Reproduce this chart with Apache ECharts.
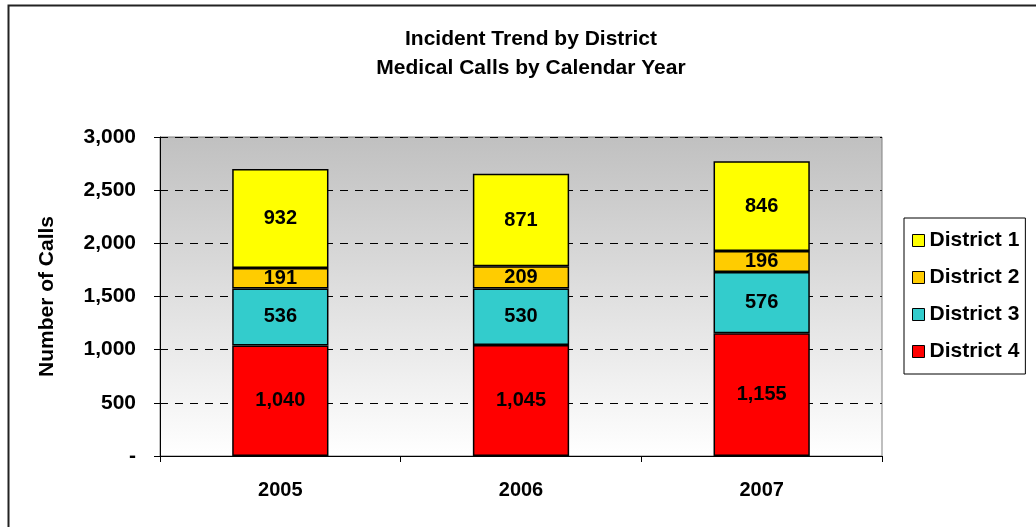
<!DOCTYPE html>
<html>
<head>
<meta charset="utf-8">
<script src="https://cdn.jsdelivr.net/npm/echarts@6/dist/echarts.min.js"></script>
<style>
  html, body { margin: 0; padding: 0; background: #fff; }
  #main { width: 1036px; height: 527px; }
</style>
</head>
<body>
<div id="main"></div>
<script>
  // data
  const years = ['2005', '2006', '2007']
  const district1 = [932, 871, 846]
  const district2 = [191, 209, 196]
  const district3 = [536, 530, 576]
  const district4 = [1040, 1045, 1155]
  const yTicks = [0, 500, 1000, 1500, 2000, 2500, 3000]

  const fontFamily = '"Liberation Sans", Arial, sans-serif'
  const fmt = v => v === 0 ? '-' : v.toLocaleString('en-US')

  const myChart = echarts.init(document.getElementById('main'))

  // one series per district, bottom of the stack first
  function barSeries (name, data, color) {
    return {
      name: name,
      type: 'bar',
      stack: 'calls',
      barWidth: '40%',
      data: data,
      itemStyle: { color: color, borderColor: '#000', borderWidth: 1.5 },
      label: {
        show: true,
        position: 'inside',
        color: '#000',
        fontFamily: fontFamily,
        fontWeight: 'bold',
        fontSize: 20,
        formatter: p => fmt(p.value)
      }
    }
  }

  const option = {
    animation: false,
    backgroundColor: '#fff',
    textStyle: { fontFamily: fontFamily },
    graphic: [{
      type: 'rect',
      shape: { x: 8.5, y: 5.5, width: 1100, height: 600 },
      style: { fill: 'none', stroke: '#222', lineWidth: 2 },
      z: 100
    }],
    title: {
      text: 'Incident Trend by District\nMedical Calls by Calendar Year',
      left: 526,
      textAlign: 'center',
      top: 20,
      textStyle: {
        fontFamily: fontFamily,
        fontWeight: 'bold',
        fontSize: 21,
        lineHeight: 29,
        color: '#000'
      }
    },
    legend: {
      orient: 'vertical',
      left: 904,
      top: 218,
      data: ['District 1', 'District 2', 'District 3', 'District 4'],
      icon: 'rect',
      itemWidth: 12,
      itemHeight: 12,
      itemGap: 16,
      padding: [12, 6, 12, 8],
      borderColor: '#000',
      borderWidth: 1,
      itemStyle: { borderColor: '#000', borderWidth: 1 },
      textStyle: {
        fontFamily: fontFamily,
        fontWeight: 'bold',
        fontSize: 21,
        color: '#000'
      }
    },
    grid: {
      left: 160,
      top: 137,
      right: 154,
      bottom: 71,
      show: true,
      borderColor: '#808080',
      borderWidth: 1,
      backgroundColor: {
        type: 'linear', x: 0, y: 0, x2: 0, y2: 1,
        colorStops: [
          { offset: 0, color: '#c0c0c0' },
          { offset: 1, color: '#ffffff' }
        ]
      }
    },
    xAxis: {
      type: 'category',
      data: years,
      axisLine: { lineStyle: { color: '#000', width: 1 } },
      axisTick: { show: true, length: 6, lineStyle: { color: '#000' } },
      axisLabel: {
        color: '#000',
        fontWeight: 'bold',
        fontSize: 20,
        margin: 24
      }
    },
    yAxis: {
      type: 'value',
      min: yTicks[0],
      max: yTicks[yTicks.length - 1],
      interval: yTicks[1] - yTicks[0],
      name: 'Number of Calls',
      nameLocation: 'middle',
      nameGap: 102,
      nameTextStyle: {
        color: '#000',
        fontWeight: 'bold',
        fontSize: 21
      },
      axisLine: { show: true, lineStyle: { color: '#000', width: 1 } },
      axisTick: { show: true, length: 6, lineStyle: { color: '#000' } },
      axisLabel: {
        color: '#000',
        fontWeight: 'bold',
        fontSize: 21,
        margin: 24,
        formatter: fmt
      },
      splitLine: {
        show: true,
        lineStyle: { color: '#000', type: [8, 7], width: 1 }
      }
    },
    series: [
      barSeries('District 4', district4, '#ff0000'),
      barSeries('District 3', district3, '#33cccc'),
      barSeries('District 2', district2, '#ffcc00'),
      barSeries('District 1', district1, '#ffff00')
    ]
  }

  myChart.setOption(option)
</script>
</body>
</html>
